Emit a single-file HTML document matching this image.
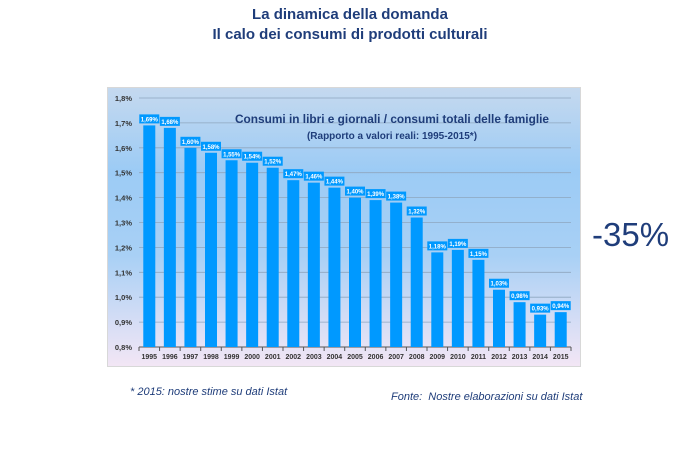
<!DOCTYPE html>
<html><head><style>
body{margin:0;width:700px;height:466px;background:#fff;overflow:hidden;font-family:"Liberation Sans",sans-serif;position:relative}
.t{position:absolute;left:0;width:700px;text-align:center;color:#1f3d7a;font-weight:bold;font-size:15px}
</style></head><body>
<div class="t" style="top:6px">La dinamica della domanda</div>
<div class="t" style="top:26px">Il calo dei consumi di prodotti culturali</div>
<div style="position:absolute;left:592px;top:216px;font-size:33px;color:#1f3d7a">-35%</div>
<div style="position:absolute;left:130px;top:386px;font-size:11px;font-style:italic;color:#1f3d7a">* 2015: nostre stime su dati Istat</div>
<div style="position:absolute;left:391px;top:391px;font-size:11px;font-style:italic;color:#1f3d7a">Fonte:&nbsp; Nostre elaborazioni su dati Istat</div>
<svg width="700" height="466" style="position:absolute;left:0;top:0">
<defs><linearGradient id="g" x1="0" y1="0" x2="0" y2="1">
<stop offset="0" stop-color="#c5d9ef"/><stop offset="0.3" stop-color="#9ccbf5"/><stop offset="0.6" stop-color="#a8d0f5"/><stop offset="1" stop-color="#f3e6f5"/></linearGradient></defs>
<rect x="107.5" y="87.5" width="473" height="279" fill="url(#g)" stroke="#d8d8d8"/>
<g id="c" font-size="8" font-weight="bold" fill="#333"></g>
</svg>
<script>
var v=[1.69,1.68,1.60,1.58,1.55,1.54,1.52,1.47,1.46,1.44,1.40,1.39,1.38,1.32,1.18,1.19,1.15,1.03,0.98,0.93,0.94];
var s='',Y=function(p){return 347-(p-0.8)*249;};
for(var i=0;i<=10;i++){var p=0.8+i*0.1,y=Y(p);
 if(i>0)s+='<line x1="139" x2="571" y1="'+y+'" y2="'+y+'" stroke="#8ea6bf" stroke-width="0.8"/>';
 s+='<text x="132" y="'+(y+3)+'" text-anchor="end" font-size="7.5">'+p.toFixed(1).replace('.',',')+'%</text>';}
s+='<line x1="139" x2="571" y1="347" y2="347" stroke="#555"/>';
var w=432/21;
for(var i=0;i<21;i++){var cx=139+w*(i+0.5),y=Y(v[i]);
 s+='<rect x="'+(cx-6)+'" y="'+y+'" width="12" height="'+(347-y)+'" fill="#0099ff"/>';
 s+='<line x1="'+(139+w*i)+'" x2="'+(139+w*i)+'" y1="347" y2="351" stroke="#555"/>';
 s+='<text x="'+cx+'" y="359" text-anchor="middle" font-size="7">'+(1995+i)+'</text>';
 s+='<rect x="'+(cx-10)+'" y="'+(y-11)+'" width="20" height="9" fill="#0099ff"/>';
 s+='<text x="'+cx+'" y="'+(y-4)+'" text-anchor="middle" font-size="6" fill="#fff">'+v[i].toFixed(2).replace('.',',')+'%</text>';}
s+='<line x1="571" x2="571" y1="347" y2="351" stroke="#555"/>';
s+='<text x="392" y="123" text-anchor="middle" font-size="12" fill="#1f3d7a" textLength="314" lengthAdjust="spacingAndGlyphs">Consumi in libri e giornali / consumi totali delle famiglie</text>';
s+='<text x="392" y="139" text-anchor="middle" font-size="10" fill="#1f3d7a">(Rapporto a valori reali: 1995-2015*)</text>';
document.getElementById('c').innerHTML=s;
</script>
</body></html>
